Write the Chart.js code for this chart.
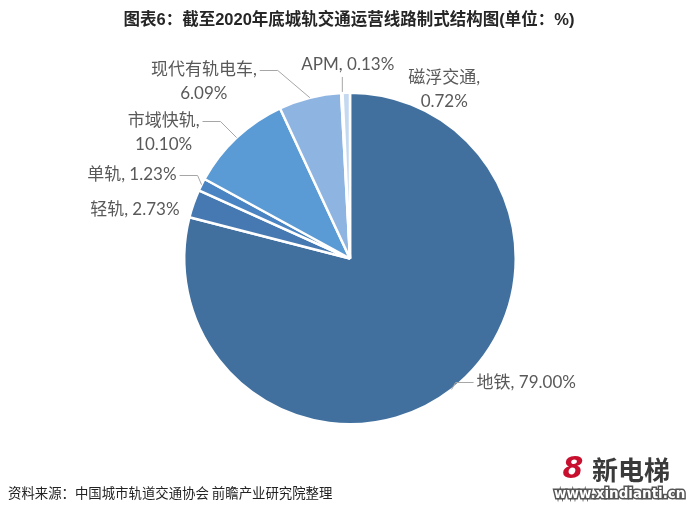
<!DOCTYPE html>
<html>
<head>
<meta charset="utf-8">
<script src="https://cdn.jsdelivr.net/npm/chart.js@4.4.1/dist/chart.umd.min.js"></script>
<style>
  html, body { margin: 0; padding: 0; background: #ffffff; }
  #wrap { position: relative; width: 700px; height: 513px; }
  canvas { display: block; }
</style>
</head>
<body>
<div id="wrap"><canvas id="c" width="700" height="513"></canvas></div>
<script>
const categories = ["地铁", "轻轨", "单轨", "市域快轨", "现代有轨电车", "APM", "磁浮交通"];
const shares = [79.00, 2.73, 1.23, 10.10, 6.09, 0.13, 0.72];
const sliceColors = ["#41709F", "#4679B1", "#4A84C2", "#5B9BD5", "#8EB4E2", "#A9C7EA", "#C4D9F0"];
const titleText = "图表6：截至2020年底城轨交通运营线路制式结构图(单位：%)";
const sourceText = "资料来源：中国城市轨道交通协会 前瞻产业研究院整理";

// label placement styles (offsets from the slice's outer rim point at mid-angle)
const labelStyles = [
  { dx: 25, dy: -7, align: "left", twoLine: false, leader: true },
  { dx: -14, dy: 6, align: "right", twoLine: false, leader: false },
  { dx: -25, dy: -10, align: "right", twoLine: false, leader: true },
  { dx: -73, dy: -17, align: "center", twoLine: true, leader: true },
  { dx: -106, dy: -28, align: "center", twoLine: true, leader: true },
  { dx: 6, dy: -28, align: "center", twoLine: false, leader: "vertical" },
  { dx: 98, dy: -15, align: "center", twoLine: true, leader: false }
];

const LABEL_FONT = '17px Lato, "Noto Sans CJK SC", sans-serif';

const labelPlugin = {
  id: "pieLabels",
  afterDatasetsDraw(chart) {
    const ctx = chart.ctx;
    const meta = chart.getDatasetMeta(0);
    ctx.save();
    ctx.font = LABEL_FONT;
    ctx.textBaseline = "middle";
    meta.data.forEach((arc, i) => {
      const st = labelStyles[i];
      const mid = (arc.startAngle + arc.endAngle) / 2;
      const r = arc.outerRadius;
      const rx = arc.x + Math.cos(mid) * r;
      const ry = arc.y + Math.sin(mid) * r;
      const ax = rx + st.dx;
      const ay = ry + st.dy;
      const pct = shares[i].toFixed(2) + "%";
      const lines = st.twoLine ? [categories[i] + ",", pct] : [categories[i] + ", " + pct];
      const lh = 24;
      ctx.fillStyle = "#595959";
      ctx.textAlign = st.align;
      lines.forEach((t, k) => ctx.fillText(t, ax, ay + k * lh));
      if (st.leader) {
        ctx.strokeStyle = "#A6A6A6";
        ctx.lineWidth = 1;
        ctx.beginPath();
        if (st.leader === "vertical") {
          ctx.moveTo(rx + 0.5, ry - 1);
          ctx.lineTo(rx + 0.5, ay + 12);
        } else {
          const w = ctx.measureText(lines[0]).width;
          let edge;
          if (st.align === "left") edge = ax - 3;
          else if (st.align === "right") edge = ax + 3;
          else edge = ax + (rx > ax ? w / 2 + 3 : -w / 2 - 3);
          const dir = rx > edge ? 1 : -1;
          const elbowX = edge + dir * 18;
          const ly = Math.round(ay) + 0.5;
          ctx.moveTo(edge, ly);
          ctx.lineTo(elbowX, ly);
          ctx.lineTo(rx, ry);
        }
        ctx.stroke();
      }
    });
    ctx.restore();
  }
};

const decorPlugin = {
  id: "decor",
  afterDraw(chart) {
    const ctx = chart.ctx;
    ctx.save();
    // title
    ctx.fillStyle = "#262626";
    ctx.font = 'bold 16.5px "Liberation Sans", "Noto Sans CJK SC", sans-serif';
    ctx.textAlign = "center";
    ctx.textBaseline = "middle";
    ctx.fillText(titleText, 349, 20);
    // source
    ctx.fillStyle = "#222222";
    ctx.font = '13.4px "Noto Sans CJK SC", sans-serif';
    ctx.textAlign = "left";
    ctx.fillText(sourceText, 8, 493);
    // logo text
    ctx.fillStyle = "#C8102E";
    ctx.font = 'bold italic 30px "DejaVu Sans", sans-serif';
    ctx.textAlign = "center";
    ctx.fillText("8", 573, 470);
    ctx.fillStyle = "#3a3a3a";
    ctx.font = 'bold 26px "Noto Sans CJK SC", sans-serif';
    ctx.textAlign = "left";
    ctx.fillText("新电梯", 592, 470);
    ctx.font = 'bold 13.5px "DejaVu Sans", sans-serif';
    ctx.lineWidth = 3;
    ctx.strokeStyle = "#555555";
    ctx.strokeText("www.xindianti.cn", 554, 494);
    ctx.fillStyle = "#ffffff";
    ctx.fillText("www.xindianti.cn", 554, 494);
    ctx.restore();
  }
};

new Chart(document.getElementById("c"), {
  type: "pie",
  data: {
    labels: categories,
    datasets: [{
      data: shares,
      backgroundColor: sliceColors,
      borderColor: "#ffffff",
      borderWidth: 2.5,
      hoverOffset: 0
    }]
  },
  options: {
    responsive: false,
    animation: false,
    events: [],
    layout: { padding: { top: 91, bottom: 87, left: 183, right: 183 } },
    plugins: {
      legend: { display: false },
      tooltip: { enabled: false },
      title: { display: false }
    }
  },
  plugins: [labelPlugin, decorPlugin]
});
</script>
</body>
</html>
